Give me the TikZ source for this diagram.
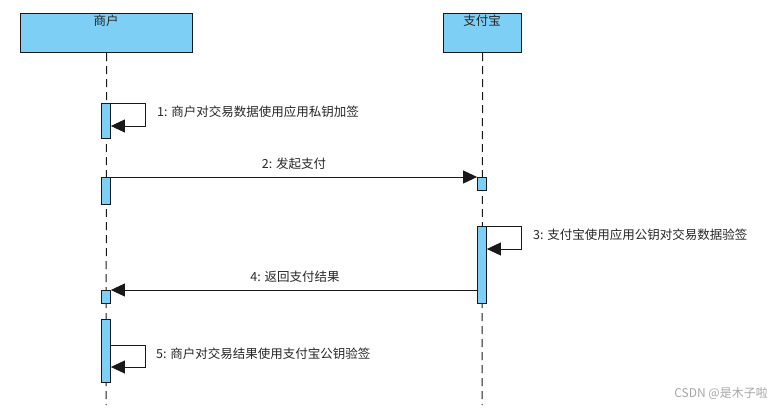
\documentclass[tikz,border=0pt]{standalone}
\usepackage{fontspec}
\setmainfont{Noto Sans CJK SC}
\usetikzlibrary{arrows.meta}
\definecolor{actblue}{RGB}{126,207,245}
\begin{document}
\begin{tikzpicture}[x=1pt,y=-1pt,
  head/.style={draw=black!90, line width=1.2pt, fill=actblue, anchor=north west, inner sep=0pt},
  life/.style={draw=black!90, line width=1pt, dash pattern=on 8pt off 5pt},
  act/.style={draw=black!90, line width=0.8pt, fill=actblue, minimum width=9pt, inner sep=0pt, anchor=north},
  msg/.style={draw=black!90, line width=0.9pt, -{Triangle[length=14pt,width=13pt]}},
  lbl/.style={font=\fontsize{12.5}{14}\selectfont, inner sep=0pt, text=black!85},
]
\useasboundingbox (0,0) rectangle (775,407);
% heads
\node[head, minimum width=172pt, minimum height=39pt] (m) at (20,13) {};
\node[lbl, anchor=center] (mt) at (106,21) {商户};
\node[head, minimum width=78pt, minimum height=39pt] (z) at (443,13) {};
\node[lbl, anchor=center] (zt) at (482,21) {支付宝};
% lifelines
\coordinate (mend) at (106,405);
\coordinate (zend) at (482,405);
\draw[life] (m.south) -- (mend);
\draw[life] (z.south) -- (zend);
% activations
\node[act, minimum height=35pt] (a1) at (106,103) {};
\node[act, minimum height=27pt] (a2) at (106,177) {};
\node[act, minimum height=13pt] (b1) at (482,177) {};
\node[act, minimum height=77pt] (b2) at (482,226) {};
\node[act, minimum height=13pt] (a4) at (106,290) {};
\node[act, minimum height=63pt] (a5) at (106,319) {};
% message 1
\coordinate (l1) at (145,126);
\draw[msg] (a1.north east) -| (l1) -- (a1.east |- l1);
\node[lbl, anchor=west] (t1) at (157,112) {1: 商户对交易数据使用应用私钥加签};
% message 2
\draw[msg] (a2.north east) -- (b1.north west);
\node[lbl] (t2) at (294,164) {2: 发起支付};
% message 3
\coordinate (l3) at (521,249);
\draw[msg] (b2.north east) -| (l3) -- (b2.east |- l3);
\node[lbl, anchor=west] (t3) at (533,235) {3: 支付宝使用应用公钥对交易数据验签};
% message 4
\draw[msg] (b2.west |- a4.north) -- (a4.north east);
\node[lbl] (t4) at (295,277) {4: 返回支付结果};
% message 5
\coordinate (s5) at (111,345);
\coordinate (l5) at (145,367);
\draw[msg] (s5) -| (l5) -- (a5.east |- l5);
\node[lbl, anchor=west] (t5) at (156,354) {5: 商户对交易结果使用支付宝公钥验签};
% watermark
\node[font=\fontsize{12}{14}\selectfont, text=black!35, anchor=east, inner sep=0pt] (wm) at (768,393) {CSDN @是木子啦};
\end{tikzpicture}
\end{document}
